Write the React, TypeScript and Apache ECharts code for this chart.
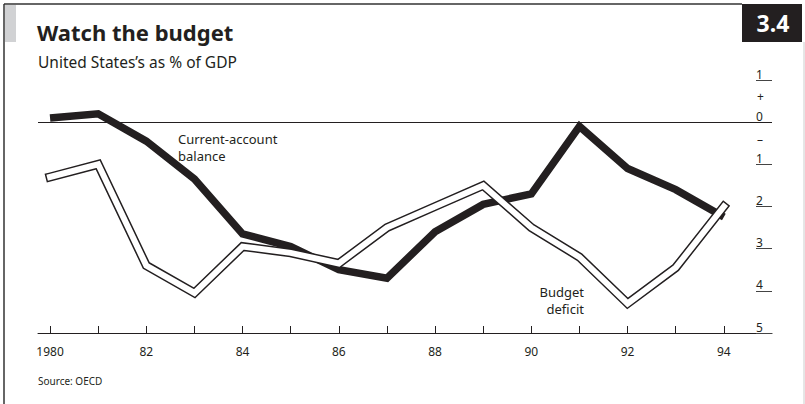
import React, { useEffect, useRef } from "react";
import * as echarts from "echarts";

const years = [1980, 1981, 1982, 1983, 1984, 1985, 1986, 1987, 1988, 1989, 1990, 1991, 1992, 1993, 1994];
const currentAccount = [0.1, 0.2, -0.45, -1.35, -2.65, -2.95, -3.5, -3.7, -2.6, -1.95, -1.7, -0.1, -1.1, -1.6, -2.25];
const budgetDeficit = [-1.3, -1.0, -3.4, -4.05, -2.95, -3.1, -3.35, -2.5, -2.0, -1.5, -2.5, -3.2, -4.3, -3.45, -2.0];
const xLabelYears = [1980, 1982, 1984, 1986, 1988, 1990, 1992, 1994];

const FONT = "'Noto Sans', 'Open Sans', sans-serif";
const TEXT = "#231f20";

export default function App() {
  const ref = useRef<HTMLDivElement>(null);
  useEffect(() => {
    if (!ref.current) return;
    const chart = echarts.init(ref.current, undefined, { renderer: "svg" });
    const pairs = (vals: number[]) => years.map((y, i) => [y, vals[i]]);
    const txt = (x: number, y: number, text: string, font: string, align = "left", fill = TEXT) => ({
      type: "text",
      x,
      y,
      style: { text, fill, font, textAlign: align, textVerticalAlign: "middle" },
    });
    chart.setOption({
      animation: false,
      backgroundColor: "#ffffff",
      textStyle: { fontFamily: FONT, color: TEXT },
      grid: { left: 38, right: 33, top: 80, bottom: 71, containLabel: false },
      xAxis: {
        type: "value",
        min: 1979.75,
        max: 1995,
        axisLine: { show: true, onZero: false, lineStyle: { color: TEXT, width: 1 } },
        axisTick: { show: true, inside: true, length: 7, customValues: years, lineStyle: { color: TEXT, width: 1 } },
        axisLabel: {
          customValues: xLabelYears,
          margin: 12,
          fontSize: 12,
          fontFamily: FONT,
          color: TEXT,
          formatter: (v: number) => (v === 1980 ? "1980" : String(v).slice(2)),
        },
        splitLine: { show: false },
      },
      yAxis: {
        type: "value",
        position: "right",
        min: -5,
        max: 1,
        interval: 1,
        axisLine: { show: false },
        axisTick: { show: true, inside: true, length: 16, lineStyle: { color: "#444", width: 1 } },
        axisLabel: {
          inside: true,
          margin: 16,
          align: "left",
          verticalAlign: "bottom",
          fontSize: 12,
          fontFamily: FONT,
          color: TEXT,
          formatter: (v: number) => String(Math.abs(v)),
        },
        splitLine: { show: false },
      },
      series: [
        {
          type: "line",
          name: "Current-account balance",
          data: pairs(currentAccount),
          symbol: "none",
          lineStyle: { color: "#231f20", width: 7.5, cap: "butt", join: "miter" },
          markLine: {
            silent: true,
            symbol: "none",
            label: { show: false },
            lineStyle: { color: TEXT, width: 1, type: "solid" },
            data: [{ yAxis: 0 }],
          },
          z: 2,
        },
        {
          type: "line",
          name: "Budget deficit outline",
          data: pairs(budgetDeficit),
          symbol: "none",
          lineStyle: { color: "#231f20", width: 9, cap: "square", join: "miter" },
          z: 3,
        },
        {
          type: "line",
          name: "Budget deficit",
          data: pairs(budgetDeficit),
          symbol: "none",
          lineStyle: { color: "#ffffff", width: 6, cap: "square", join: "miter" },
          z: 4,
        },
      ],
      graphic: [
        { type: "line", shape: { x1: 4, y1: 4, x2: 4, y2: 404 }, style: { stroke: "#333", lineWidth: 1.5 } },
        { type: "line", shape: { x1: 4, y1: 4, x2: 742, y2: 4 }, style: { stroke: "#333", lineWidth: 1.5 } },
        { type: "line", shape: { x1: 804, y1: 42, x2: 804, y2: 404 }, style: { stroke: "#cccccc", lineWidth: 1 } },
        { type: "rect", shape: { x: 5, y: 5, width: 11, height: 37 }, style: { fill: "#d1d2d4" } },
        { type: "rect", shape: { x: 742, y: 4, width: 60, height: 38 }, style: { fill: "#231f20" } },
        txt(773, 23, "3.4", `bold 23px ${FONT}`, "center", "#ffffff"),
        txt(37, 32, "Watch the budget", `bold 22px ${FONT}`),
        txt(38, 62, "United States’s as % of GDP", `15.5px ${FONT}`),
        txt(757, 96, "+", `12px ${FONT}`),
        txt(757, 139, "–", `12px ${FONT}`),
        txt(178, 139, "Current-account", `13px ${FONT}`),
        txt(178, 156, "balance", `13px ${FONT}`),
        txt(584, 292, "Budget", `13px ${FONT}`, "right"),
        txt(584, 309, "deficit", `13px ${FONT}`, "right"),
        txt(38, 381, "Source: OECD", `10px ${FONT}`),
      ],
    });
    return () => chart.dispose();
  }, []);
  return <div ref={ref} style={{ position: "absolute", left: 0, top: 0, width: 805, height: 404 }} />;
}
